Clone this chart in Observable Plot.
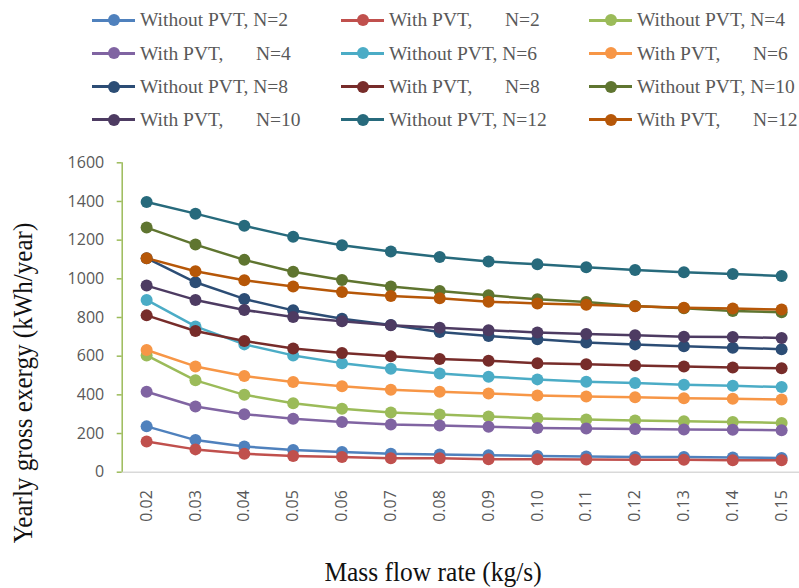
<!DOCTYPE html>
<html>
<head>
<meta charset="utf-8">
<script src="https://cdn.jsdelivr.net/npm/d3@7"></script>
<script src="https://cdn.jsdelivr.net/npm/@observablehq/plot@0.6"></script>
<style>
  html, body { margin: 0; padding: 0; background: #fff; }
  #wrap { position: relative; width: 799px; height: 588px; overflow: hidden; }
  #chart { position: absolute; left: 0; top: 0; }
  .leg { position: absolute; display: flex; align-items: center; height: 30px; transform: translateY(-50%); }
  .leg .sw { position: relative; width: 43px; height: 14px; flex: none; }
  .leg .sw .ln { position: absolute; left: 0; right: 0; top: 5.5px; height: 3px; }
  .leg .sw .mk { position: absolute; left: 15.5px; top: 1px; width: 12px; height: 12px; border-radius: 50%; }
  .leg .tx { margin-left: 5px; font-family: "Liberation Serif", serif; font-size: 19.5px; color: #595959; white-space: pre; line-height: 1; }
  .leg .tx .pre { display: inline-block; width: 116px; }
  .title { position: absolute; font-family: "Liberation Serif", serif; font-size: 28px; color: #111; white-space: nowrap; line-height: normal; }
</style>
</head>
<body>
<div id="wrap">
  <div id="chart"></div>
</div>
<script>
// ---- data ----
const flowRates = [0.02, 0.03, 0.04, 0.05, 0.06, 0.07, 0.08, 0.09, 0.10, 0.11, 0.12, 0.13, 0.14, 0.15];
const yTicks = [0, 200, 400, 600, 800, 1000, 1200, 1400, 1600];

const withoutN2  = [237, 166, 133, 115, 104, 95, 92, 88, 84, 81, 79, 78, 76, 74];
const withN2     = [159, 118, 95, 84, 78, 72, 72, 67, 67, 66, 64, 64, 62, 62];
const withoutN4  = [604, 475, 400, 357, 328, 309, 299, 288, 278, 273, 268, 264, 260, 255];
const withN4     = [416, 340, 300, 276, 259, 247, 242, 235, 229, 226, 223, 221, 219, 217];
const withoutN6  = [891, 754, 661, 604, 564, 535, 511, 494, 480, 468, 461, 452, 447, 440];
const withN6     = [632, 547, 497, 466, 444, 426, 416, 407, 397, 392, 387, 383, 380, 376];
const withoutN8  = [1107, 982, 896, 837, 794, 761, 725, 704, 687, 671, 661, 651, 644, 636];
const withN8     = [811, 730, 678, 640, 616, 599, 585, 576, 564, 558, 552, 547, 542, 537];
const withoutN10 = [1265, 1177, 1098, 1037, 994, 960, 937, 915, 894, 880, 860, 848, 834, 827];
const withN10    = [965, 891, 839, 803, 780, 760, 747, 734, 723, 715, 708, 701, 699, 694];
const withoutN12 = [1397, 1337, 1274, 1217, 1174, 1141, 1113, 1089, 1075, 1060, 1046, 1034, 1025, 1015];
const withN12    = [1107, 1039, 993, 960, 932, 911, 899, 882, 873, 866, 858, 851, 846, 841];

const seriesNames = [
  "Without PVT, N=2", "With PVT,       N=2", "Without PVT, N=4",
  "With PVT,       N=4", "Without PVT, N=6", "With PVT,       N=6",
  "Without PVT, N=8", "With PVT,       N=8", "Without PVT, N=10",
  "With PVT,       N=10", "Without PVT, N=12", "With PVT,       N=12"
];
const seriesValues = [withoutN2, withN2, withoutN4, withN4, withoutN6, withN6,
                      withoutN8, withN8, withoutN10, withN10, withoutN12, withN12];

// ---- styles ----
const seriesColors = ["#4F81BD", "#C0504D", "#9BBB59", "#8064A2", "#4BACC6", "#F79646",
                      "#2C4D75", "#772C2A", "#5F7530", "#4D3B62", "#276A7C", "#B65708"];
const axisGreen = "#9BBB59";
const labelGray = "#595959";

// tidy table
const rows = seriesNames.flatMap((name, s) =>
  flowRates.map((f, i) => ({ flow: f, value: seriesValues[s][i], series: name }))
);

const W = 799, H = 588;
const chart = Plot.plot({
  width: W,
  height: H,
  marginTop: 162.3,
  marginBottom: H - 471.7,
  marginLeft: 121.7,
  marginRight: 0,
  style: { fontFamily: "'Open Sans', sans-serif", background: "white", overflow: "visible" },
  x: { type: "linear", domain: [0.015, 0.15366] },
  y: { domain: [0, 1600] },
  color: { domain: seriesNames, range: seriesColors },
  marks: [
    Plot.ruleY([0], { stroke: "#D9D9D9", strokeWidth: 1.5 }),
    Plot.ruleX([0.015], { y1: 0, y2: 1600, stroke: axisGreen, strokeWidth: 1.5 }),
    Plot.axisY({
      ticks: yTicks, tickFormat: d3.format("d"), tickSize: 5, tickPadding: 13,
      stroke: axisGreen, strokeWidth: 1.5, fill: labelGray, fontSize: 16, label: null
    }),
    Plot.axisX({
      ticks: flowRates, tickFormat: d3.format(".2f"), tickRotate: -90, tickSize: 0,
      tickPadding: 18, fill: labelGray, fontSize: 16, label: null
    }),
    Plot.line(rows, { x: "flow", y: "value", z: "series", stroke: "series", strokeWidth: 2.5 }),
    Plot.dot(rows, { x: "flow", y: "value", fill: "series", r: 6 })
  ]
});
document.getElementById("chart").appendChild(chart);

// ---- legend ----
const wrap = document.getElementById("wrap");
const colX = [92, 341, 589];
const rowY0 = 20, rowStep = 33.3;
seriesNames.forEach((name, i) => {
  const col = i % 3, row = Math.floor(i / 3);
  const item = document.createElement("div");
  item.className = "leg";
  item.style.left = colX[col] + "px";
  item.style.top = (rowY0 + row * rowStep) + "px";
  const sw = document.createElement("div");
  sw.className = "sw";
  const ln = document.createElement("div");
  ln.className = "ln";
  ln.style.background = seriesColors[i];
  const mk = document.createElement("div");
  mk.className = "mk";
  mk.style.background = seriesColors[i];
  sw.appendChild(ln); sw.appendChild(mk);
  const tx = document.createElement("span");
  tx.className = "tx";
  const parts = name.split(/\s{2,}/);
  if (parts.length === 2) {
    const a = document.createElement("span");
    a.className = "pre";
    a.textContent = parts[0];
    tx.appendChild(a);
    tx.appendChild(document.createTextNode(parts[1]));
  } else {
    tx.textContent = name;
  }
  item.appendChild(sw); item.appendChild(tx);
  wrap.appendChild(item);
});

// ---- axis titles ----
const yTitle = document.createElement("div");
yTitle.className = "title";
yTitle.textContent = "Yearly gross exergy (kWh/year)";
yTitle.style.left = "23px";
yTitle.style.top = "383px";
yTitle.style.transform = "translate(-50%, -50%) rotate(-90deg) scale(0.895, 1)";
wrap.appendChild(yTitle);

const xTitle = document.createElement("div");
xTitle.className = "title";
xTitle.textContent = "Mass flow rate (kg/s)";
xTitle.style.left = "433px";
xTitle.style.top = "572px";
xTitle.style.transform = "translate(-50%, -50%) scale(0.91, 1)";
wrap.appendChild(xTitle);
</script>
</body>
</html>
